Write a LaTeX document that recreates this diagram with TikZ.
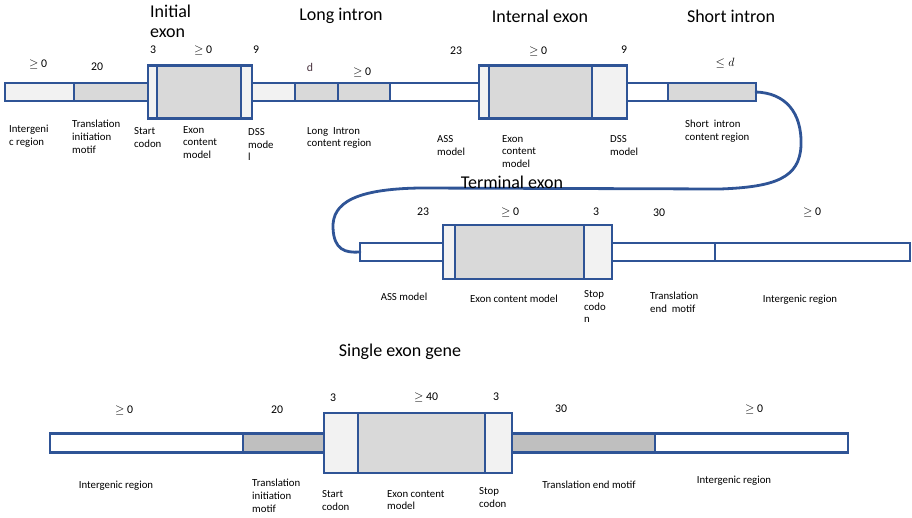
\documentclass[tikz,border=0pt]{standalone}
\usepackage{fontspec}
\setmainfont{Carlito}
\usetikzlibrary{positioning}

\definecolor{edgeblue}{RGB}{47,84,150}
\definecolor{lite}{RGB}{242,242,242}
\definecolor{mid}{RGB}{217,217,217}
\definecolor{dark}{RGB}{191,191,191}
\definecolor{dtext}{RGB}{72,50,62}

\begin{document}
\begin{tikzpicture}[x=1pt, y=-1pt,
        every node/.style={font=\fontsize{10.8}{12.8}\selectfont},
        part/.style={draw=edgeblue, line width=2.8pt, outer sep=0pt,
                     inner sep=0pt, minimum height=18pt},
        box/.style={part, minimum height=53pt},
        num/.style={font=\fontsize{11.8}{14}\selectfont, inner sep=0pt},
        lbl/.style={align=left, anchor=north west, inner sep=0pt},
        title/.style={font=\fontsize{18}{20}\selectfont, inner sep=0pt},
        wire/.style={draw=edgeblue, line width=2.8pt, line join=round, line cap=round}
    ]
        \useasboundingbox (0,0) rectangle (912,517);

        % initial exon, long intron, internal exon, short intron
        \node[part, fill=lite, minimum width=69pt, anchor=west] (ig1) at (5,92) {};
        \node[part, fill=mid,  minimum width=74pt, right=0pt of ig1]  (tim1) {};
        \node[box,  fill=lite, minimum width=9pt,  right=0pt of tim1] (sc1)  {};
        \node[box,  fill=mid,  minimum width=84pt, right=0pt of sc1]  (ec1)  {};
        \node[box,  fill=lite, minimum width=11pt, right=0pt of ec1]  (dss1) {};
        \node[part, fill=lite, minimum width=43pt, right=0pt of dss1] (li1)  {};
        \node[part, fill=mid,  minimum width=43pt, right=0pt of li1]  (lid)  {};
        \node[part, fill=mid,  minimum width=52pt, right=0pt of lid]  (lic)  {};
        \node[part, fill=white, minimum width=89pt, right=0pt of lic] (ass2) {};
        \node[box,  fill=lite, minimum width=10pt, right=0pt of ass2] (asb2) {};
        \node[box,  fill=mid,  minimum width=103pt, right=0pt of asb2] (ec2) {};
        \node[box,  fill=lite, minimum width=35pt, right=0pt of ec2]  (dss2) {};
        \node[part, fill=white, minimum width=41pt, right=0pt of dss2] (si1) {};
        \node[part, fill=mid,  minimum width=88pt, right=0pt of si1]  (sic)  {};

        % terminal exon
        \node[part, fill=white, minimum width=83pt, anchor=west] (ass3) at (360,252) {};
        \node[box, fill=lite, minimum width=12pt,  minimum height=54pt, right=0pt of ass3] (asb3) {};
        \node[box, fill=mid,  minimum width=129pt, minimum height=54pt, right=0pt of asb3] (ec3) {};
        \node[box, fill=lite, minimum width=28pt,  minimum height=54pt, right=0pt of ec3] (stop3) {};
        \node[part, fill=white, minimum width=103pt, right=0pt of stop3] (tem3) {};
        \node[part, fill=white, minimum width=195pt, right=0pt of tem3] (ig3) {};

        % single exon gene
        \node[part, fill=white, minimum width=193pt, minimum height=19pt, anchor=west] (ig4) at (50,443) {};
        \node[part, fill=dark, minimum width=81pt,  minimum height=19pt, right=0pt of ig4] (tim4) {};
        \node[box,  fill=lite, minimum width=34pt,  minimum height=60pt, right=0pt of tim4] (sc4) {};
        \node[box,  fill=mid,  minimum width=127pt, minimum height=60pt, right=0pt of sc4] (ec4) {};
        \node[box,  fill=lite, minimum width=27pt,  minimum height=60pt, right=0pt of ec4] (stop4) {};
        \node[part, fill=dark, minimum width=143pt, minimum height=19pt, right=0pt of stop4] (tem4) {};
        \node[part, fill=white, minimum width=193pt, minimum height=19pt, right=0pt of tem4] (ig5) {};

        % loop from short intron to terminal exon
        \draw[wire] (sic.east) .. controls (785,93) and (802,112) .. (801,145)
            .. controls (800,178) and (775,187) .. (720,189)
            -- (420,188)
            .. controls (355,189) and (332,203) .. (333,228)
            .. controls (334,250) and (345,253) .. (ass3.west);

        % titles
        \node[title, align=left, anchor=north west] (t1) at (150,5) {Initial\\exon};
        \node[title] (t2) at (341,16)  {Long intron};
        \node[title] (t3) at (540,16)  {Internal exon};
        \node[title] (t4) at (731,16)  {Short intron};
        \node[title] (t5) at (512,182) {Terminal exon};
        \node[title] (t6) at (400,352) {Single exon gene};

        % lengths, top row
        \node[num] (n1)  at (38,64)  {\(\geq\) 0};
        \node[num] (n2)  at (97,67)  {20};
        \node[num] (n3)  at (153,50) {3};
        \node[num] (n4)  at (203,50) {\(\geq\) 0};
        \node[num] (n5)  at (256,50) {9};
        \node[num, text=dtext] (n6) at (310,67) {d};
        \node[num] (n7)  at (362,72) {\(\geq\) 0};
        \node[num] (n8)  at (456,51) {23};
        \node[num] (n9)  at (538,51) {\(\geq\) 0};
        \node[num] (n10) at (624,50) {9};
        \node[num] (n11) at (725,63) {\(\leq d\)};

        % lengths, terminal exon
        \node[num] (m1) at (423,212) {23};
        \node[num] (m2) at (510,212) {\(\geq\) 0};
        \node[num] (m3) at (596,212) {3};
        \node[num] (m4) at (659,213) {30};
        \node[num] (m5) at (812,212) {\(\geq\) 0};

        % lengths, single exon gene
        \node[num] (k1) at (124,410) {\(\geq\) 0};
        \node[num] (k2) at (277,410) {20};
        \node[num] (k3) at (333,398) {3};
        \node[num] (k4) at (426,397) {\(\geq\) 40};
        \node[num] (k5) at (496,397) {3};
        \node[num] (k6) at (561,409) {30};
        \node[num] (k7) at (754,409) {\(\geq\) 0};

        % labels, top row
        \node[lbl] (a1)  at (9,125)   {Intergeni\\c region};
        \node[lbl] (a2)  at (72,120)  {Translation\\initiation\\motif};
        \node[lbl] (a3)  at (134,127) {Start\\codon};
        \node[lbl] (a4)  at (183,126) {Exon\\content\\model};
        \node[lbl] (a5)  at (248,128) {DSS\\mode\\l};
        \node[lbl] (a6)  at (307,127) {Long\ \ Intron\\content region};
        \node[lbl] (a7)  at (437,135) {ASS\\model};
        \node[lbl] (a8)  at (502,135) {Exon\\content\\model};
        \node[lbl] (a9)  at (610,135) {DSS\\model};
        \node[lbl] (a10) at (685,120) {Short\ \ intron\\content region};

        % labels, terminal exon
        \node (b1) at (404,297) {ASS model};
        \node (b2) at (514,299) {Exon content model};
        \node[lbl] (b3) at (584,290) {Stop\\codo\\n};
        \node[lbl] (b4) at (650,292) {Translation\\end\ \ motif};
        \node (b5) at (800,300) {Intergenic region};

        % labels, single exon gene
        \node (c1) at (116,486) {Intergenic region};
        \node[lbl] (c2) at (252,479) {Translation\\initiation\\motif};
        \node[lbl] (c3) at (322,490) {Start\\codon};
        \node[lbl] (c4) at (387,490) {Exon content\\model};
        \node[lbl] (c5) at (479,487) {Stop\\codon};
        \node (c6) at (589,485) {Translation end motif};
        \node (c7) at (734,481) {Intergenic region};
    \end{tikzpicture}
\end{document}
